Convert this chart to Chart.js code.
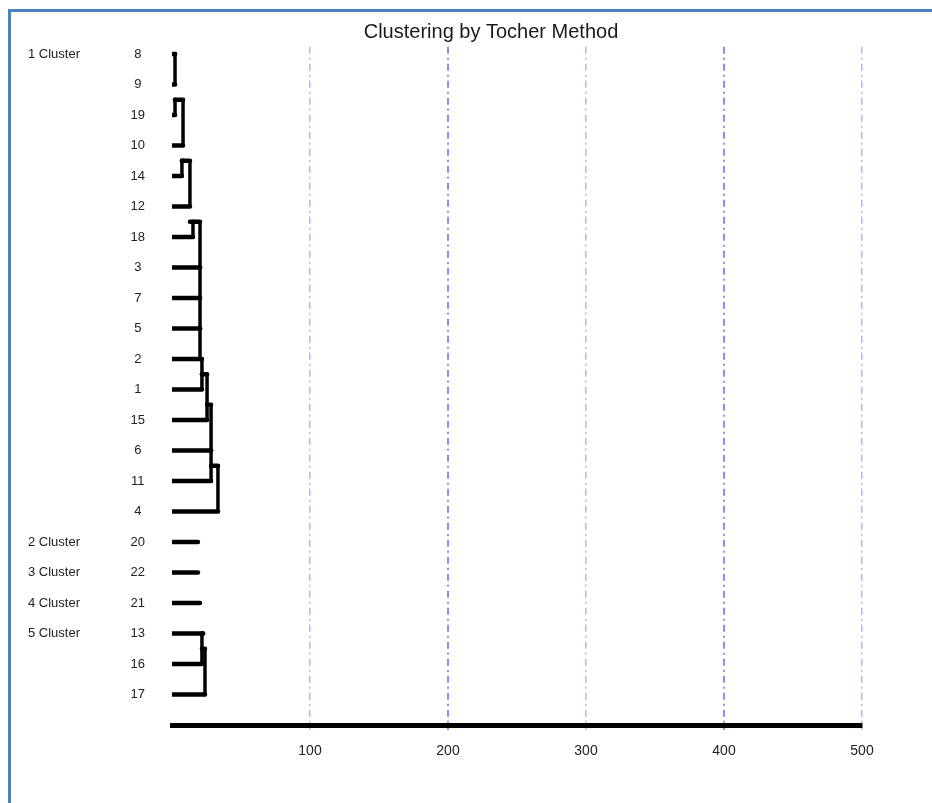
<!DOCTYPE html>
<html>
<head>
<meta charset="utf-8">
<script src="https://cdn.jsdelivr.net/npm/chart.js@4.4.1/dist/chart.umd.min.js"></script>
<style>
  html, body { margin: 0; padding: 0; background: #fff; overflow: hidden; }
  #frame { position: absolute; left: 8px; top: 9px; width: 940px; height: 800px;
           border-top: 3px solid #4f81bd; border-left: 3px solid #4f81bd; }
  #wrap { position: absolute; left: 0; top: 0; width: 932px; height: 803px; overflow: hidden; }
</style>
</head>
<body>
<div id="frame"></div>
<div id="wrap"><canvas id="tocher" width="982" height="803"></canvas></div>
<script>
// leaves top to bottom, and which Tocher cluster each one is in
const leafNames = ["8", "9", "19", "10", "14", "12", "18", "3", "7", "5", "2", "1", "15", "6", "11", "4",
                   "20", "22", "21", "13", "16", "17"];
const clusterOf = [1, 1, 1, 1, 1, 1, 1, 1, 1, 1, 1, 1, 1, 1, 1, 1, 2, 3, 4, 5, 5, 5];
// distance where each leaf joins (x)
const leafEnd = [2.2, 2.2, 2.2, 8.0, 7.2, 13.0, 15.2, 20.3, 20.3, 20.3, 20.3, 21.7, 25.4, 28.3, 28.3, 33.3,
                 18.8, 18.8, 20.3, 22.5, 21.7, 23.9];
// row the join line climbs up to
const joinRow = [0, 0, 1.5, 1.5, 3.5, 3.5, 5.5, 5.5, 7, 8, 9, 10, 10.5, 11.5, 13, 13.5,
                 16, 17, 18, 19, 19, 19.5];

const clusterNames = ["1 Cluster", "2 Cluster", "3 Cluster", "4 Cluster", "5 Cluster"];
const clusterRows = [0, 16, 17, 18, 19];
const xTicks = [100, 200, 300, 400, 500];

const FONT = "'Liberation Sans', Arial, sans-serif";

const datasets = leafNames.map((name, i) => {
  const pts = [{x: 0, y: i}, {x: leafEnd[i], y: i}];
  if (i > 0 && clusterOf[i - 1] === clusterOf[i]) {
    pts.push({x: leafEnd[i], y: joinRow[i]});
    pts.push({x: leafEnd[i - 1], y: joinRow[i]});
  }
  return {
    label: name,
    data: pts,
    showLine: true,
    pointRadius: 0,
    borderColor: "#000",
    borderWidth: 4,
    borderCapStyle: "round",
    borderJoinStyle: "miter",
    segment: {
      borderWidth: c => c.p0.parsed.y === c.p1.parsed.y ? 4.5 : 3.5
    }
  };
});

const strongLine = v => v === 200 || v === 400;

new Chart("tocher", {
  type: "scatter",
  data: { datasets: datasets },
  options: {
    responsive: false,
    animation: false,
    devicePixelRatio: 1,
    layout: { padding: 0 },
    plugins: {
      legend: { display: false },
      tooltip: { enabled: false },
      title: {
        display: true,
        text: "Clustering by Tocher Method",
        color: "#1a1a1a",
        font: { family: FONT, size: 20, weight: "normal" },
        padding: { top: 20, bottom: 2.8 }
      }
    },
    scales: {
      x: {
        type: "linear",
        min: 0,
        max: 500,
        afterBuildTicks: s => { s.ticks = xTicks.map(v => ({ value: v })); },
        afterFit: s => { s.height = 78; },
        grid: {
          color: c => strongLine(c.tick && c.tick.value) ? "#8c8cff" : "#b4b4ff",
          lineWidth: c => strongLine(c.tick && c.tick.value) ? 2 : 1.5,
          drawTicks: true,
          tickLength: 5
        },
        border: {
          display: true,
          color: "#000",
          width: 5,
          dash: c => c.type === "tick" ? [7, 4, 2, 4] : []
        },
        ticks: {
          padding: 13,
          color: "#222",
          font: { family: FONT, size: 14 }
        }
      },
      y: {
        type: "linear",
        reverse: true,
        min: -0.236,
        max: 22,
        weight: 0,
        afterBuildTicks: s => { s.ticks = leafNames.map((n, i) => ({ value: i })); },
        afterFit: s => { s.width = 64; },
        grid: { display: false, drawTicks: false },
        border: { display: false },
        ticks: {
          autoSkip: false,
          crossAlign: "center",
          padding: 27,
          color: "#222",
          font: { family: FONT, size: 13 },
          callback: v => leafNames[v] ?? ""
        }
      },
      yc: {
        type: "linear",
        position: "left",
        reverse: true,
        min: -0.236,
        max: 22,
        weight: 1,
        afterBuildTicks: s => { s.ticks = clusterRows.map(v => ({ value: v })); },
        afterFit: s => { s.width = 108; },
        grid: { display: false, drawTicks: false },
        border: { display: false },
        ticks: {
          autoSkip: false,
          crossAlign: "near",
          padding: 28,
          color: "#222",
          font: { family: FONT, size: 13 },
          callback: v => clusterNames[clusterRows.indexOf(v)] ?? ""
        }
      },
      yr: {
        type: "linear",
        position: "right",
        afterFit: s => { s.width = 120; },
        grid: { display: false, drawTicks: false },
        border: { display: false },
        ticks: { display: false }
      }
    }
  }
});
</script>
</body>
</html>
